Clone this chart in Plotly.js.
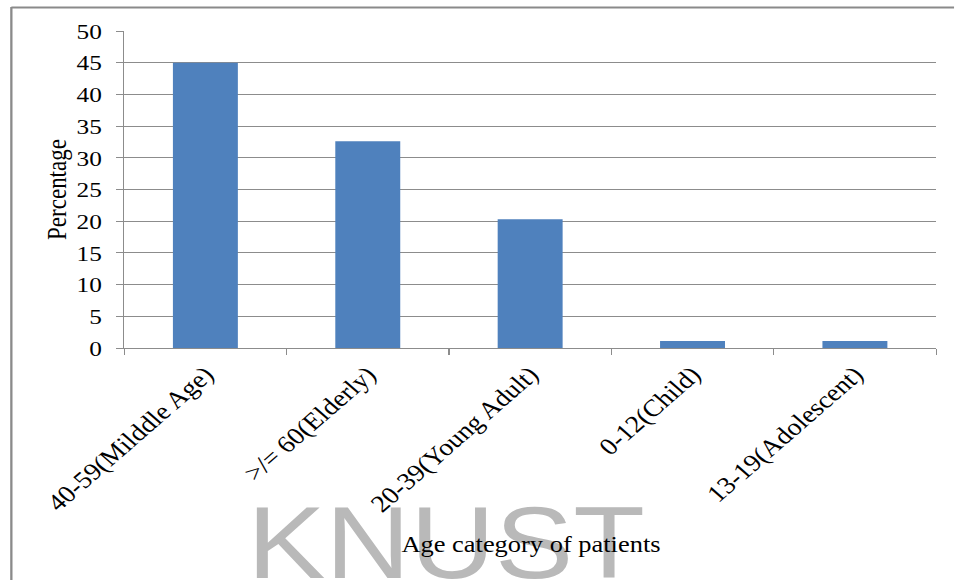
<!DOCTYPE html>
<html>
<head>
<meta charset="utf-8">
<script src="https://cdn.plot.ly/plotly-3.0.1.min.js"></script>
<style>
html,body{margin:0;padding:0;background:#fff;overflow:hidden;}
#wrap{width:955px;height:580px;overflow:hidden;position:relative;}
#chart{position:absolute;left:0;top:0;transform-origin:0 0;}
</style>
</head>
<body>
<div id="wrap"><div id="chart"></div></div>
<script>
const categories = ["40-59(Milddle Age)", ">/= 60(Elderly)", "20-39(Young Adult)", "0-12(Child)", "13-19(Adolescent)"];
const percentages = [45, 32.6, 20.3, 1.1, 1.1];
const yTickValues = [0, 5, 10, 15, 20, 25, 30, 35, 40, 45, 50];
const xTitle = "Age category of patients";
const yTitle = "Percentage";
const watermark = "KNUST";

const serif = "Liberation Serif, Times New Roman, serif";
const gridColor = "#8c8c8c";

// The reference picture is stretched horizontally; draw at a narrower width and stretch.
const K = 1.15;
const W = 955 / K, H = 580;
const L = 124 / K, R = 937 / K, T = 31, B = 348;
const px = v => (v / K - L) / (R - L);
const py = v => (B - v) / (B - T);

document.getElementById("chart").style.transform = "scaleX(" + K + ")";

const trace = {
  type: "bar",
  x: categories,
  y: percentages,
  marker: {color: "#4F81BD"},
  hoverinfo: "x+y"
};

const layout = {
  width: W, height: H,
  margin: {l: L, r: W - R, t: T, b: H - B},
  paper_bgcolor: "#fff",
  plot_bgcolor: "#fff",
  showlegend: false,
  bargap: 0.6,
  font: {family: serif, color: "#000"},
  xaxis: {
    type: "category",
    showgrid: false,
    showline: true, linecolor: gridColor, linewidth: 1,
    ticks: "outside", tickson: "boundaries", ticklen: 6, tickcolor: gridColor,
    tickangle: -45,
    ticklabelstandoff: 2,
    tickfont: {family: serif, size: 24, color: "#000"},
    automargin: false
  },
  yaxis: {
    range: [0, 50],
    tickvals: yTickValues,
    showgrid: true, gridcolor: gridColor, gridwidth: 1,
    zeroline: false,
    showline: true, linecolor: gridColor, linewidth: 1,
    ticks: "outside", ticklen: 6, tickcolor: gridColor,
    ticklabelstandoff: 8,
    tickfont: {family: serif, size: 22, color: "#000"},
    title: {text: yTitle, font: {family: serif, size: 23, color: "#000"}, standoff: 2},
    automargin: false
  },
  shapes: [
    {type: "line", xref: "paper", yref: "paper", x0: px(11), x1: px(11), y0: py(7), y1: py(580), line: {color: "#8a8a8a", width: 2}},
    {type: "line", xref: "paper", yref: "paper", x0: px(11), x1: px(955), y0: py(7.5), y1: py(7.5), line: {color: "#8a8a8a", width: 2}}
  ],
  annotations: [
    {xref: "paper", yref: "paper", x: px(447), y: py(484), xanchor: "center", yanchor: "top",
     text: watermark, showarrow: false,
     font: {family: "Liberation Sans, Arial, sans-serif", size: 102, color: "#b9b9b9"}},
    {xref: "paper", yref: "paper", x: px(531), y: py(544), xanchor: "center", yanchor: "middle",
     text: xTitle, showarrow: false,
     font: {family: serif, size: 23, color: "#000"}}
  ]
};

Plotly.newPlot("chart", [trace], layout, {displayModeBar: false});
</script>
</body>
</html>
